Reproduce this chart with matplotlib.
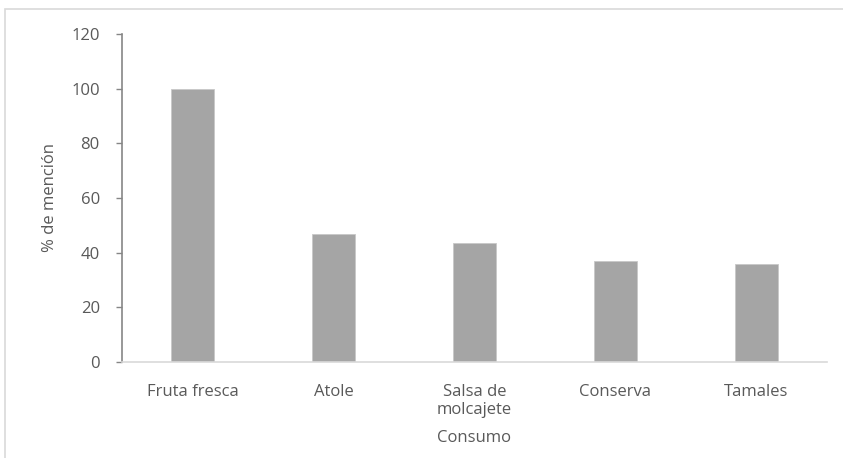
import matplotlib.pyplot as plt
from matplotlib.patches import Rectangle

# consumption uses and percentage of mentions
categories = ["Fruta fresca", "Atole", "Salsa de\nmolcajete", "Conserva", "Tamales"]
mentions = [100, 46.7, 43.5, 37.0, 35.8]
y_ticks = [0, 20, 40, 60, 80, 100, 120]

W, H = 843, 458
fig = plt.figure(figsize=(W / 100, H / 100), dpi=100)
plt.rcParams['font.family'] = ['Open Sans', 'DejaVu Sans']
txt = '#595959'
fs = 12

# light chart-area frame (right and bottom edges run off the image)
fig.patches.append(Rectangle((5 / W, -0.1), 1.2, (H - 9) / H + 0.1,
                             transform=fig.transFigure, fill=False,
                             edgecolor='#D9D9D9', linewidth=1.2))

ax = fig.add_axes([122 / W, 96 / H, 705 / W, 328 / H])
x = range(len(categories))
ax.bar(x, mentions, width=0.31, color='#A5A5A5', edgecolor='#C8C8C8', linewidth=0.6)

ax.set_xlim(-0.5, len(categories) - 0.5)
ax.set_ylim(0, 120)
ax.set_yticks(y_ticks)
ax.set_xticks(list(x))
ax.set_xticklabels(categories, fontsize=fs, color=txt, linespacing=1.15)
ax.tick_params(axis='y', labelsize=fs, labelcolor=txt, color='#868686',
               length=4, width=1, pad=12)
ax.tick_params(axis='x', length=0, pad=16)

for side in ['top', 'right']:
    ax.spines[side].set_visible(False)
ax.spines['left'].set_color('#868686')
ax.spines['left'].set_linewidth(1.2)
ax.spines['bottom'].set_color('#D9D9D9')
ax.spines['bottom'].set_linewidth(1.2)

ax.set_ylabel("% de mención", fontsize=fs, color=txt)
ax.yaxis.set_label_coords((50 - 122) / 705, 0.5)
ax.set_xlabel("Consumo", fontsize=fs, color=txt)
ax.xaxis.set_label_coords(0.5, -(438 - 362) / 328)
ax.xaxis.label.set_va('center')
ax.yaxis.label.set_va('center')

fig.savefig("out.png", dpi=100)
